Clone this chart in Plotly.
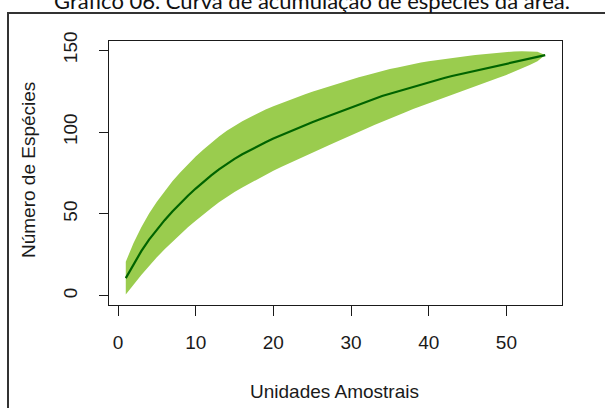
import plotly.graph_objects as go

# Sampling units (x)
units = list(range(1, 56))

# Mean accumulated species (dark line)
mean_species = [
    10.8, 19.5, 27.3, 34.3, 40.5, 46.2, 51.5, 56.4, 61.1, 65.5,
    69.6, 73.5, 77.2, 80.6, 83.6, 86.4, 89.0, 91.5, 93.8, 96.0,
    98.1, 100.2, 102.2, 104.1, 106.0, 107.8, 109.6, 111.5, 113.3, 115.2,
    116.8, 118.4, 120.2, 122.0, 123.4, 124.8, 126.3, 127.8, 129.2, 130.6,
    131.8, 133.0, 134.2, 135.3, 136.4, 137.5, 138.6, 139.7, 140.8, 141.9,
    143.0, 144.1, 145.1, 146.1, 147.0,
]

# Half-width of the confidence band (green polygon)
ci_halfwidth = [
    10.0, 12.8, 14.6, 16.0, 17.0, 17.8, 18.4, 18.9, 19.3, 19.6,
    19.8, 20.0, 20.1, 20.2, 20.2, 20.2, 20.1, 20.0, 19.9, 19.7,
    19.5, 19.3, 19.1, 18.8, 18.6, 18.3, 18.0, 17.7, 17.4, 17.1,
    16.7, 16.3, 15.9, 15.5, 15.1, 14.6, 14.2, 13.7, 13.2, 12.7,
    12.2, 11.7, 11.2, 10.6, 10.1, 9.5, 8.9, 8.3, 7.7, 7.0,
    6.2, 5.3, 4.2, 2.9, 0.0,
]

x_ticks = [0, 10, 20, 30, 40, 50]
y_ticks = [0, 50, 100, 150]

title_text = "Gráfico 06. Curva de acumulação de espécies da área."
x_title = "Unidades Amostrais"
y_title = "Número de Espécies"

upper = [m + c for m, c in zip(mean_species, ci_halfwidth)]
lower = [m - c for m, c in zip(mean_species, ci_halfwidth)]

fig = go.Figure()
fig.add_trace(go.Scatter(
    x=units + units[::-1],
    y=upper + lower[::-1],
    fill="toself",
    fillcolor="#9ACC4E",
    line=dict(width=0, color="#9ACC4E"),
    mode="lines",
    hoverinfo="skip",
    showlegend=False,
))
fig.add_trace(go.Scatter(
    x=units, y=mean_species,
    mode="lines",
    line=dict(color="#006400", width=2.2),
    showlegend=False,
))

axis_font = dict(family="Liberation Sans, Arial, sans-serif", size=19, color="#1a1a1a")

fig.update_xaxes(
    range=[-1.16, 57.16],
    tickvals=x_ticks,
    ticktext=[str(v) for v in x_ticks],
    showgrid=False, zeroline=False,
    showline=True, mirror=True, linecolor="#1a1a1a", linewidth=1.2,
    ticks="outside", ticklen=10, tickwidth=1.2, tickcolor="#1a1a1a",
    tickfont=axis_font,
    ticklabelstandoff=10,
)
fig.update_yaxes(
    range=[-5.6, 155.6],
    tickvals=y_ticks,
    ticktext=[str(v) for v in y_ticks],
    showgrid=False, zeroline=False,
    showline=True, mirror=True, linecolor="#1a1a1a", linewidth=1.2,
    ticks="outside", ticklen=9, tickwidth=1.2, tickcolor="#1a1a1a",
    tickfont=axis_font,
    tickangle=-90,
    ticklabelstandoff=14,
)

PL, PR, PT, PB = 109, 562, 41, 305
PW, PH = PR - PL, PB - PT


def px_x(px):
    return (px - PL) / PW


def px_y(py):
    return (PB - py) / PH


fig.add_annotation(
    text=x_title, xref="paper", yref="paper",
    x=px_x(334), y=px_y(391), xanchor="center", yanchor="middle",
    showarrow=False, font=axis_font,
)
fig.add_annotation(
    text=y_title, xref="paper", yref="paper",
    x=px_x(28), y=px_y(170), xanchor="center", yanchor="middle",
    textangle=-90, showarrow=False, font=axis_font,
)
fig.add_annotation(
    text=title_text, xref="paper", yref="paper",
    x=px_x(312), y=px_y(0), xanchor="center", yanchor="middle",
    showarrow=False,
    font=dict(family="Lato, Open Sans, sans-serif", size=22, color="#111111"),
)
# outer frame (only top and left edges fall inside the picture)
fig.add_shape(
    type="rect", xref="paper", yref="paper",
    x0=px_x(8), x1=px_x(640), y0=px_y(440), y1=px_y(13),
    line=dict(color="#333333", width=2), fillcolor="rgba(0,0,0,0)",
    layer="above",
)

fig.update_layout(
    width=605, height=408,
    margin=dict(l=PL, r=605 - PR, t=PT, b=408 - PB, autoexpand=False),
    paper_bgcolor="white", plot_bgcolor="white",
    showlegend=False,
)

fig.write_html("out.html")
